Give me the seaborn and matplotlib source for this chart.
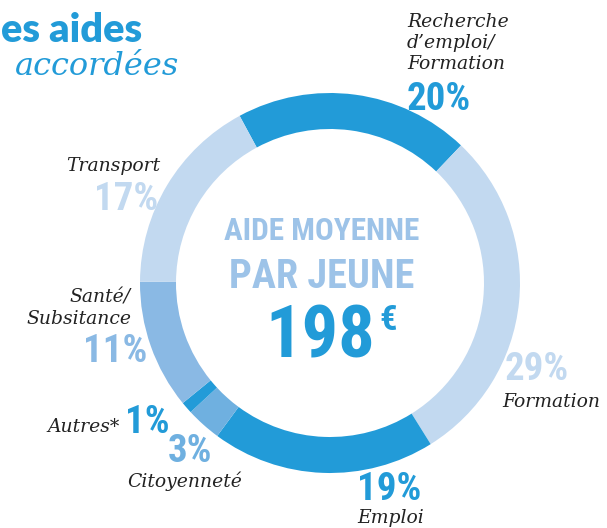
# Importing libraries
import numpy as np
import pandas as pd

# Importing visualizations
import matplotlib
matplotlib.use("Agg")
import matplotlib.pyplot as plt
import seaborn as sns

# Data
categories = ["Recherche\nd\u2019emploi/\nFormation", "Formation", "Emploi",
              "Citoyenneté", "Autres*", "Santé/\nSubsitance", "Transport"]
shares = [20, 29, 19, 3, 1, 11, 17]
colors = ["#229bd8", "#c2d9f0", "#229bd8", "#6fb0e0", "#229bd8", "#8ab9e4", "#c2d9f0"]
avg_aid = 198

df = pd.DataFrame({"category": categories, "share": shares, "color": colors})

sns.set_theme(style="white")
plt.rcParams['font.family'] = ['DejaVu Sans']

W, H = 607, 528
fig = plt.figure(figsize=(W / 100, H / 100), dpi=100)
ax = fig.add_axes([0, 0, 1, 1])

# Donut
ax.pie(df["share"], colors=df["color"], startangle=118.4, counterclock=False,
       center=(330, H - 283), radius=190,
       wedgeprops=dict(width=36, linewidth=0))
ax.set_xlim(0, W)
ax.set_ylim(0, H)
ax.set_aspect('equal')
ax.axis('off')

def Y(y):
    return H - y

blue = "#229bd8"
pale = "#9dc3e8"
narrow = ["Roboto Condensed", "DejaVu Sans"]
label_font = dict(family="DejaVu Serif", style="italic", size=13.5, color="#222222")
pct_font = dict(family=narrow, stretch="condensed", weight="bold", size=28)

# Title (cropped in the reference)
ax.text(1, Y(42), "es aides", ha="left", va="baseline", color=blue,
        family=["Lato", "DejaVu Sans"], weight="heavy", size=28.5)
ax.text(15, Y(75), "accordées", ha="left", va="baseline", color=blue,
        family="DejaVu Serif", style="italic", size=23)

# Centre
ax.text(322, Y(240), "AIDE MOYENNE", ha="center", va="baseline", color=pale,
        family=narrow, stretch="condensed", weight="bold", size=22.5)
ax.text(322, Y(288), "PAR JEUNE", ha="center", va="baseline", color=pale,
        family=narrow, stretch="condensed", weight="bold", size=29)
ax.text(375, Y(357), str(avg_aid), ha="right", va="baseline", color=blue,
        family=narrow, stretch="condensed", weight="bold", size=52)
ax.text(379, Y(330), "€", ha="left", va="baseline", color=blue,
        family=narrow, stretch="condensed", weight="bold", size=25)

# Labels: (label x, label baseline, label ha, pct x, pct baseline, pct ha)
label_pos = [
    (407, 27, "left", 407, 110, "left"),
    (502, 407, "left", 505, 380, "left"),
    (357, 523, "left", 357, 500, "left"),
    (127, 487, "left", 168, 462, "left"),
    (120, 432, "right", 125, 433, "left"),
    (131, 303, "right", 147, 362, "right"),
    (160, 171, "right", 158, 210, "right"),
]

for name, share, col, (lx, ly, lha, px, py, pha) in zip(categories, shares, colors, label_pos):
    for i, line in enumerate(name.split("\n")):
        ax.text(lx, Y(ly + 21 * i), line, ha=lha, va="baseline", **label_font)
    ax.text(px, Y(py), f"{share}%", ha=pha, va="baseline", color=col, **pct_font)

fig.savefig("out.png", dpi=100)
